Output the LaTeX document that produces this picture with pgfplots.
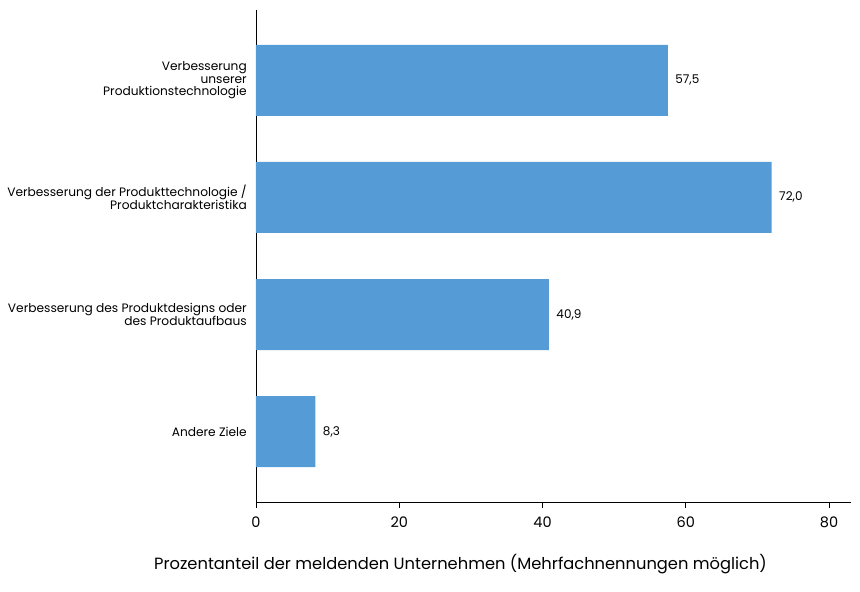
\documentclass[border=0pt]{standalone}
\usepackage{pgfplots}
\pgfplotsset{compat=1.18}
\usepackage{fontspec}
\setmainfont{Poppins}
\definecolor{barblue}{RGB}{85,155,214}
\begin{document}
\begin{tikzpicture}
\useasboundingbox (-256bp,-90bp) rectangle (604bp,502bp);
\begin{axis}[
  at={(0,0)}, anchor=south west,
  scale only axis,
  width=595bp, height=492bp,
  xbar, bar width=71bp,
  xmin=0, xmax=83.07,
  ymin=-0.6, ymax=3.6, y dir=reverse,
  axis x line*=bottom, axis y line*=left,
  axis line style={black, line width=0.8pt},
  xtick={0,20,40,60,80},
  tick align=outside,
  major tick length=6bp,
  xtick style={black, line width=0.8pt},
  ytick={0,1,2,3},
  ytick style={draw=none},
  yticklabels={{Verbesserung\\unserer\\Produktionstechnologie},{Verbesserung der Produkttechnologie /\\Produktcharakteristika},{Verbesserung des Produktdesigns oder\\des Produktaufbaus},{Andere Ziele}},
  yticklabel style={align=right, font=\fontsize{12.2bp}{12.5bp}\selectfont, inner sep=0pt, xshift=-3bp},
  xticklabel style={font=\fontsize{14.5bp}{16bp}\selectfont, yshift=-5bp},
  /pgf/number format/assume math mode=true,
  xlabel={Prozentanteil der meldenden Unternehmen (Mehrfachnennungen möglich)},
  xlabel style={font=\fontsize{16.3bp}{18bp}\selectfont, yshift=-20bp, xshift=-93bp},
  nodes near coords,
  nodes near coords style={font=\fontsize{12bp}{12bp}\selectfont, /pgf/number format/fixed, /pgf/number format/fixed zerofill, /pgf/number format/precision=1, /pgf/number format/use comma, /pgf/number format/assume math mode=true, anchor=west, xshift=4bp},
  clip=false,
]
\addplot[fill=barblue, draw=none] coordinates {(57.5,0) (72.0,1) (40.9,2) (8.3,3)};
\end{axis}
\end{tikzpicture}
\end{document}
